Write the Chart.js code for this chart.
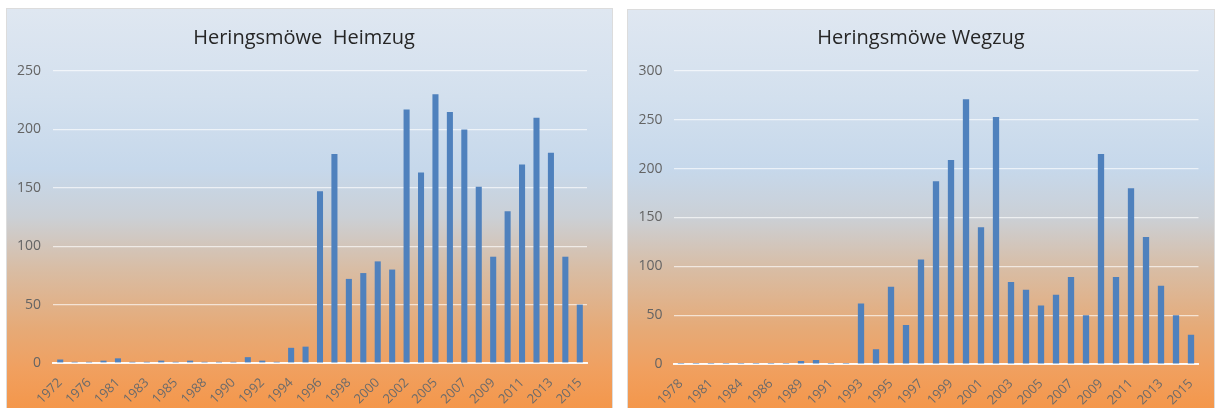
<!DOCTYPE html>
<html>
<head>
<meta charset="utf-8">
<script src="https://cdn.jsdelivr.net/npm/chart.js@4.4.1/dist/chart.umd.min.js"></script>
<style>
  html, body { margin: 0; padding: 0; background: #fff; }
  body { width: 1216px; height: 408px; position: relative; overflow: hidden; }
  .panel {
    position: absolute;
    outline: 1px solid #dcdcdc;
    background: linear-gradient(to bottom, #dfe7f1 0%, #d3e0ee 22%, #c6d8eb 40%, #cbd0d6 52%, #d8bda5 65%, #e6aa77 80%, #f0a060 90%, #f4974b 100%);
  }
  .panel canvas { position: absolute; left: 0; top: 0; }
  #heimPanel { left: 7px; top: 9px; width: 605px; height: 399px; }
  #wegPanel { left: 628px; top: 10px; width: 586px; height: 398px; }
</style>
</head>
<body>
<div class="panel" id="heimPanel"><canvas id="heimChart" width="605" height="399"></canvas></div>
<div class="panel" id="wegPanel"><canvas id="wegChart" width="586" height="398"></canvas></div>
<script>
// Heimzug (spring passage)
const heimYears = ['1972', '1974', '1976', '1979', '1981', '1982', '1983', '1984', '1985', '1987',
  '1988', '1989', '1990', '1991', '1992', '1993', '1994', '1995', '1996', '1997', '1998', '1999',
  '2000', '2001', '2002', '2004', '2005', '2006', '2007', '2008', '2009', '2010', '2011', '2012',
  '2013', '2014', '2015'];
const heimCounts = [3, 1, 1, 2, 4, 1, 1, 2, 1, 2, 1, 1, 1, 5, 2, 1, 13, 14,
  147, 179, 72, 77, 87, 80, 217, 163, 230, 215, 200, 151, 91, 130, 170, 210, 180, 91, 50];
const heimTicks = [0, 50, 100, 150, 200, 250];

// Wegzug (autumn passage)
const wegYears = ['1978', '1980', '1981', '1983', '1984', '1985', '1986', '1988', '1989', '1990',
  '1991', '1992', '1993', '1994', '1995', '1996', '1997', '1998', '1999', '2000', '2001', '2002',
  '2003', '2004', '2005', '2006', '2007', '2008', '2009', '2010', '2011', '2012', '2013', '2014', '2015'];
const wegCounts = [1, 1, 1, 1, 1, 1, 1, 1, 3, 4, 1, 1,
  62, 15, 79, 40, 107, 187, 209, 271, 140, 253, 84, 76, 60, 71, 89, 50, 215, 89, 180, 130, 80, 50, 30];
const wegTicks = [0, 50, 100, 150, 200, 250, 300];

const fontFamily = '"Open Sans", "Noto Sans", sans-serif';

function drawChart(canvasId, title, years, counts, ticks, box) {
  'use strict';

  // eslint-disable-next-line no-new
  new Chart(document.getElementById(canvasId), {
    type: 'bar',
    data: {
      labels: years,
      datasets: [{
        data: counts,
        backgroundColor: '#4f81bd',
        borderWidth: 0,
        categoryPercentage: 1,
        barPercentage: 0.42
      }]
    },
    options: {
      responsive: false,
      animation: false,
      layout: { padding: { left: 0, right: box.right, top: 0, bottom: 0 } },
      plugins: {
        legend: { display: false },
        tooltip: { enabled: false },
        title: {
          display: true,
          text: title,
          color: '#262626',
          font: { family: fontFamily, size: 20, weight: 'normal', lineHeight: 1.2 },
          padding: { top: box.titleTop, bottom: box.titleBottom }
        }
      },
      scales: {
        x: {
          grid: { display: false },
          border: { display: true, color: 'rgba(255,255,255,0.9)', width: 2 },
          ticks: {
            autoSkip: false,
            minRotation: 45,
            maxRotation: 45,
            padding: 4,
            color: '#6b6b6b',
            font: { family: fontFamily, size: 13 },
            callback: (value, index) => (index % 2 === 0 ? years[index] : '')
          },
          afterFit: (scale) => { scale.height = box.xHeight; }
        },
        y: {
          min: 0,
          max: ticks[ticks.length - 1],
          afterBuildTicks: (scale) => { scale.ticks = ticks.map((v) => ({ value: v })); },
          grid: { color: 'rgba(255,255,255,0.65)', lineWidth: 1.2, drawTicks: false },
          border: { display: false },
          ticks: {
            padding: box.tickPad,
            color: '#646464',
            font: { family: fontFamily, size: 14 }
          },
          afterFit: (scale) => { scale.width = box.yWidth; }
        },
        // empty spacer on the right so the title centres on the panel
        spacer: {
          type: 'linear',
          position: 'right',
          grid: { display: false },
          border: { display: false },
          ticks: { display: false },
          afterFit: (scale) => { scale.width = box.spacer; }
        }
      }
    }
  });
}

drawChart('heimChart', 'Heringsmöwe  Heimzug', heimYears, heimCounts, heimTicks,
  { right: 11, spacer: 14, titleTop: 17, titleBottom: 21, xHeight: 45, yWidth: 46, tickPad: 12 });
drawChart('wegChart', 'Heringsmöwe Wegzug', wegYears, wegCounts, wegTicks,
  { right: 0, spacer: 15.5, titleTop: 16, titleBottom: 21, xHeight: 44, yWidth: 45.5, tickPad: 11 });
</script>
</body>
</html>
